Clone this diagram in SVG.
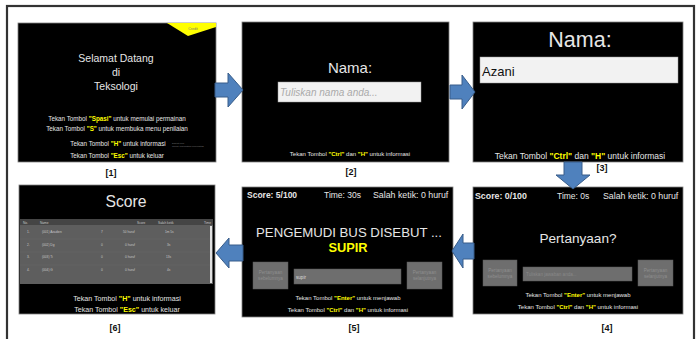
<svg xmlns="http://www.w3.org/2000/svg" width="697" height="339" viewBox="0 0 697 339">
<style>
.scr{fill:#000;stroke:#808080;stroke-width:0.8}
.t{font-family:"Liberation Sans",Arial,sans-serif;fill:#e6e6e6}
.m{text-anchor:middle}
.y{fill:#ffff00;font-weight:bold}
.b{font-weight:bold}
.arr{fill:#4f81bd;stroke:#385d8a;stroke-width:1}
.lbl{font-family:"Liberation Sans",Arial,sans-serif;font-weight:bold;font-size:9px;fill:#111;text-anchor:middle}
.btn{fill:#6e6e6e;stroke:#5a5a5a;stroke-width:0.5}
.bt{font-family:"Liberation Sans",Arial,sans-serif;fill:#8e8e8e;font-size:4.6px;text-anchor:middle}
.tb{font-family:"Liberation Sans",Arial,sans-serif;fill:#c8c8c8;font-size:3.2px}
</style>
<rect width="697" height="339" fill="#fff"/>
<rect x="7" y="6" width="687" height="340" fill="none" stroke="#333" stroke-width="2.2"/>

<g id="screen1">
<rect class="scr" x="18" y="23" width="198" height="139"/>
<polygon points="167,23 216,23 216,27 188,36" fill="#ffff00"/>
<text class="t" x="193" y="29.5" font-size="3.5" fill="#555" style="fill:#777" text-anchor="middle">Credit</text>
<text class="t m" x="116" y="62" font-size="10.5">Selamat Datang</text>
<text class="t m" x="116" y="76" font-size="10.5">di</text>
<text class="t m" x="116" y="90" font-size="10.5">Teksologi</text>
<text class="t m" x="117" y="121" font-size="6.3">Tekan Tombol <tspan class="y">"Spasi"</tspan> untuk memulai permainan</text>
<text class="t m" x="117" y="131" font-size="6.3">Tekan Tombol <tspan class="y">"S"</tspan> untuk membuka menu penilaian</text>
<text class="t m" x="118" y="146" font-size="6.3">Tekan Tombol <tspan class="y">"H"</tspan> untuk informasi</text>
<text class="t m" x="117" y="158" font-size="6.3">Tekan Tombol <tspan class="y">"Esc"</tspan> untuk keluar</text>
<text class="t" x="172" y="143.5" font-size="2.4" style="fill:#777">Dibuat oleh</text>
<text class="t" x="172" y="147" font-size="2.4" style="fill:#777">Teknik Informatika Universitas</text>
</g>
<text class="lbl" x="111" y="176">[1]</text>

<g id="screen2">
<rect class="scr" x="242" y="22" width="207" height="140"/>
<text class="t m" x="350" y="73" font-size="15">Nama:</text>
<rect x="278" y="82" width="143" height="20" fill="#f2f2f2" stroke="#999" stroke-width="0.5"/>
<text x="280" y="96" font-family="Liberation Sans, Arial, sans-serif" font-size="10" font-style="italic" fill="#aaa">Tuliskan nama anda...</text>
<text class="t m" x="350" y="156" font-size="6">Tekan Tombol <tspan class="y">"Ctrl"</tspan> dan <tspan class="y">"H"</tspan> untuk informasi</text>
</g>
<text class="lbl" x="351" y="175">[2]</text>

<g id="screen3">
<rect class="scr" x="473" y="22" width="210" height="140"/>
<text class="t m" x="580" y="47" font-size="21.5">Nama:</text>
<rect x="480" y="57" width="198" height="26" fill="#f2f2f2" stroke="#999" stroke-width="0.5"/>
<text x="482" y="76" font-family="Liberation Sans, Arial, sans-serif" font-size="13" fill="#111">Azani</text>
<text class="t m" x="580" y="159" font-size="8.5">Tekan Tombol <tspan class="y">"Ctrl"</tspan> dan <tspan class="y">"H"</tspan> untuk informasi</text>
</g>
<text class="lbl" x="602" y="171">[3]</text>

<g id="screen4">
<rect class="scr" x="473" y="187" width="210" height="127"/>
<text class="t b" x="475" y="199" font-size="8.8">Score: 0/100</text>
<text class="t" x="557" y="199" font-size="8.5">Time: 0s</text>
<text class="t" x="603" y="199" font-size="8.8">Salah ketik: 0 huruf</text>
<text class="t m" x="578" y="243" font-size="13.6">Pertanyaan?</text>
<rect class="btn" x="483" y="260" width="34" height="26"/>
<text class="bt" x="500" y="272">Pertanyaan</text>
<text class="bt" x="500" y="278">sebelumnya</text>
<rect class="btn" x="523" y="267" width="109" height="14"/>
<text x="526" y="276" font-family="Liberation Sans, Arial, sans-serif" font-size="4.6" fill="#888">Tuliskan jawaban anda...</text>
<rect class="btn" x="638" y="260" width="35" height="26"/>
<text class="bt" x="655.5" y="272">Pertanyaan</text>
<text class="bt" x="655.5" y="278">selanjutnya</text>
<text class="t m" x="578" y="297" font-size="6">Tekan Tombol <tspan class="y">"Enter"</tspan> untuk menjawab</text>
<text class="t m" x="578" y="308.5" font-size="6">Tekan Tombol <tspan class="y">"Ctrl"</tspan> dan <tspan class="y">"H"</tspan> untuk informasi</text>
</g>
<text class="lbl" x="607" y="331">[4]</text>

<g id="screen5">
<rect class="scr" x="242" y="187" width="211" height="130"/>
<text class="t b" x="247" y="198" font-size="8.5">Score: 5/100</text>
<text class="t" x="324" y="198" font-size="8.5">Time: 30s</text>
<text class="t" x="373" y="198" font-size="8.8">Salah ketik: 0 huruf</text>
<text class="t m" x="349" y="237" font-size="13.2">PENGEMUDI BUS DISEBUT ...</text>
<text class="t m y" x="348" y="252" font-size="12.8">SUPIR</text>
<rect class="btn" x="253" y="262" width="35" height="27"/>
<text class="bt" x="270.5" y="274">Pertanyaan</text>
<text class="bt" x="270.5" y="280">sebelumnya</text>
<rect class="btn" x="294" y="269" width="107" height="15"/>
<text x="296" y="278.5" font-family="Liberation Sans, Arial, sans-serif" font-size="4.6" fill="#ddd">supir</text>
<rect class="btn" x="407" y="262" width="35" height="27"/>
<text class="bt" x="424.5" y="274">Pertanyaan</text>
<text class="bt" x="424.5" y="280">selanjutnya</text>
<text class="t m" x="348" y="300" font-size="6">Tekan Tombol <tspan class="y">"Enter"</tspan> untuk menjawab</text>
<text class="t m" x="348" y="312" font-size="6">Tekan Tombol <tspan class="y">"Ctrl"</tspan> dan <tspan class="y">"H"</tspan> untuk informasi</text>
</g>
<text class="lbl" x="354" y="331">[5]</text>

<g id="screen6">
<rect class="scr" x="19" y="185" width="196" height="129"/>
<text class="t m" x="126" y="207" font-size="15.7">Score</text>
<rect x="20" y="219" width="193" height="65" fill="#5e5e5e"/>
<rect x="20" y="219" width="193" height="6" fill="#454545"/>
<g stroke="#6c6c6c" stroke-width="0.4">
<line x1="20" y1="239" x2="210" y2="239"/>
<line x1="20" y1="252" x2="210" y2="252"/>
<line x1="20" y1="265" x2="210" y2="265"/>
</g>
<rect x="210" y="226" width="2" height="57" fill="#e0e0e0"/>
<text class="tb" x="23" y="223.5">No.</text>
<text class="tb" x="40" y="223.5">Name</text>
<text class="tb" x="137" y="223.5">Score</text>
<text class="tb" x="158" y="223.5">Salah ketik</text>
<text class="tb" x="204" y="223.5">Time</text>
<text class="tb" x="27" y="233">1.</text><text class="tb" x="42" y="233">(001) Azadien</text><text class="tb" x="101" y="233">7</text><text class="tb" x="123" y="233">50 huruf</text><text class="tb" x="165" y="233">1m 5s</text>
<text class="tb" x="27" y="246">2.</text><text class="tb" x="42" y="246">(002) Dg</text><text class="tb" x="101" y="246">0</text><text class="tb" x="125" y="246">0 huruf</text><text class="tb" x="167" y="246">3s</text>
<text class="tb" x="27" y="258">3.</text><text class="tb" x="42" y="258">(003) Ti</text><text class="tb" x="101" y="258">0</text><text class="tb" x="125" y="258">0 huruf</text><text class="tb" x="166" y="258">13s</text>
<text class="tb" x="27" y="271">4.</text><text class="tb" x="42" y="271">(004) G</text><text class="tb" x="101" y="271">0</text><text class="tb" x="125" y="271">0 huruf</text><text class="tb" x="167" y="271">4s</text>
<text class="t m" x="127" y="300.5" font-size="7.1">Tekan Tombol <tspan class="y">"H"</tspan> untuk informasi</text>
<text class="t m" x="127" y="311.5" font-size="7.1">Tekan Tombol <tspan class="y">"Esc"</tspan> untuk keluar</text>
</g>
<text class="lbl" x="115" y="331">[6]</text>

<g id="connectors">
<path class="arr" d="M215,83 H228 V73 L243,90 L228,107 V97 H215 Z"/>
<path class="arr" d="M450,85 H462 V75 L475,92 L462,109 V99 H450 Z"/>
<path class="arr" d="M564,162 H582 V175 H590 L573,189 L556,175 H564 Z"/>
<path class="arr" d="M474,243 H463 V234 L452,251 L463,268 V259 H474 Z"/>
<path class="arr" d="M243,245 H229 V238 L216,253 L229,268 V261 H243 Z"/>
</g>
</svg>
